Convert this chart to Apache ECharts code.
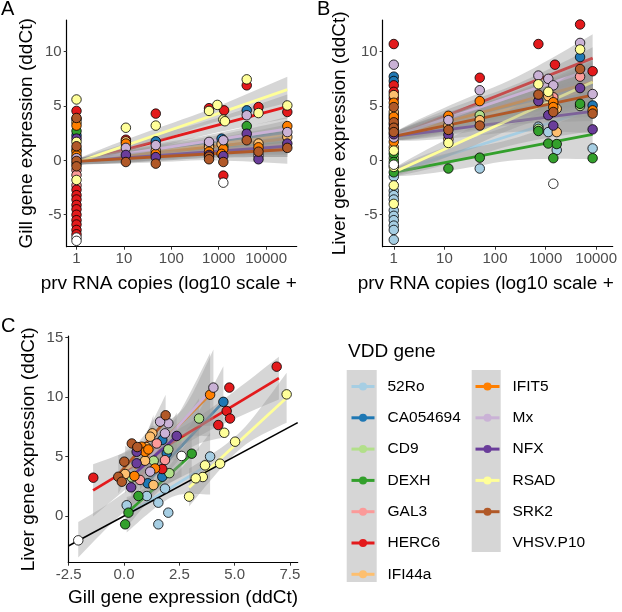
<!DOCTYPE html>
<html>
<head>
<meta charset="utf-8">
<script src="https://cdn.jsdelivr.net/npm/echarts@6/dist/echarts.min.js"></script>
<style>
  html, body { margin: 0; padding: 0; background: #fff; }
  #chart { width: 622px; height: 612px; }
</style>
</head>
<body>
<div id="chart"></div>
<script>
var genes = ['52Ro', 'CA054694', 'CD9', 'DEXH', 'GAL3', 'HERC6', 'IFI44a',
             'IFIT5', 'Mx', 'NFX', 'RSAD', 'SRK2', 'VHSV.P10'];
var geneColors = ['#A6CEE3', '#1F78B4', '#B2DF8A', '#33A02C', '#FB9A99', '#E31A1C', '#FDBF6F',
                  '#FF7F00', '#CAB2D6', '#6A3D9A', '#FFFF99', '#B15928', '#FFFFFF'];

// panel A: [gene, prv RNA copies, gill ddCt]
var gillVsPrv = [
  ['RSAD',1,5.6],['HERC6',1,4.55],['SRK2',1,3.9],['HERC6',1,3.8],['IFI44a',1,3.5],['IFIT5',1,3.2],
  ['DEXH',1,2.7],['CA054694',1,2.3],['NFX',1,2.0],['RSAD',1,1.7],['SRK2',1,1.3],['CD9',1,1.0],
  ['IFIT5',1,0.8],['IFIT5',1,0.45],['Mx',1,0.2],['SRK2',1,-0.05],['52Ro',1,-0.3],['SRK2',1,-0.55],
  ['GAL3',1,-0.9],['GAL3',1,-1.35],['RSAD',1,-1.8],['GAL3',1,-2.3],['HERC6',1,-2.7],['HERC6',1,-3.2],
  ['HERC6',1,-3.6],['HERC6',1,-4.1],['HERC6',1,-4.5],['HERC6',1,-5.0],['HERC6',1,-5.5],['HERC6',1,-5.9],
  ['HERC6',1,-6.4],['HERC6',1,-6.8],['VHSV.P10',1,-7.1],['VHSV.P10',1,-7.4],
  ['RSAD',11,3.0],['HERC6',11,1.9],['IFI44a',11,1.75],['IFIT5',11,1.55],['Mx',11,1.15],['NFX',11,0.5],['SRK2',11,-0.15],
  ['HERC6',47,4.3],['RSAD',47,3.2],['CA054694',47,1.75],['Mx',47,1.4],['IFI44a',47,0.9],['IFIT5',47,0.6],
  ['NFX',47,0.3],['SRK2',47,-0.3],
  ['HERC6',625,4.8],['RSAD',625,4.55],['Mx',625,1.7],['CA054694',625,1.4],['IFI44a',625,1.2],['IFIT5',625,0.8],
  ['NFX',625,0.5],['SRK2',625,0.35],['SRK2',625,0.1],
  ['RSAD',935,5.1],
  ['HERC6',1300,4.6],['RSAD',1250,3.75],['RSAD',1350,3.6],['CA054694',1150,2.0],['Mx',1250,1.85],['IFI44a',1150,1.5],
  ['DEXH',1250,1.3],['IFIT5',1250,1.05],['IFIT5',1150,0.6],['NFX',1250,0.4],['SRK2',1250,-0.15],['HERC6',1250,-1.4],
  ['VHSV.P10',1250,-2.05],
  ['RSAD',3900,7.45],['HERC6',3900,6.9],['CA054694',3900,4.6],['Mx',3900,4.15],['DEXH',3900,3.15],['NFX',3900,2.45],['SRK2',3900,1.85],
  ['HERC6',6900,4.9],['RSAD',6900,4.35],['IFI44a',6900,1.55],['IFIT5',6900,1.2],['SRK2',6900,0.8],['Mx',6900,0.45],['NFX',6900,0.1],
  ['RSAD',28000,5.05],['HERC6',28000,4.45],['IFIT5',28000,3.15],['Mx',28000,2.6],['IFI44a',28000,2.15],['NFX',28000,1.55],['SRK2',28000,1.15]
];

// panel B: [gene, prv RNA copies, liver ddCt]
var liverVsPrv = [
  ['HERC6',1,10.7],['Mx',1,8.8],['CA054694',1,7.7],['CA054694',1,7.3],['HERC6',1,6.9],['HERC6',1,6.3],['IFI44a',1,6.0],
  ['HERC6',1,5.7],['IFIT5',1,5.3],['SRK2',1,4.9],['IFI44a',1,4.45],['CD9',1,4.2],['IFIT5',1,4.0],['GAL3',1,3.8],
  ['SRK2',1,3.5],['NFX',1,3.3],['SRK2',1,3.0],['GAL3',1,2.9],['SRK2',1,2.6],['NFX',1,2.4],['Mx',1,2.1],['IFIT5',1,1.7],
  ['IFI44a',1,1.2],['RSAD',1,0.9],['DEXH',1,0.6],['CD9',1,0.2],['VHSV.P10',1,-0.4],['DEXH',1,-0.15],['RSAD',1,-0.6],['DEXH',1,-1.1],
  ['52Ro',1,-1.5],['RSAD',1,-2.3],['52Ro',1,-2.8],['52Ro',1,-3.2],['52Ro',1,-3.6],['RSAD',1,-4.0],['52Ro',1,-4.6],
  ['52Ro',1,-5.1],['52Ro',1,-5.5],['52Ro',1,-6.0],['52Ro',1,-6.4],['52Ro',1,-7.3],
  ['IFIT5',12,4.1],['Mx',12,3.7],['IFI44a',12,3.2],['SRK2',12,2.8],['NFX',12,2.35],['IFI44a',12,1.95],['RSAD',12,1.6],['DEXH',12,-0.75],
  ['HERC6',50,7.6],['Mx',50,6.45],['IFIT5',50,5.45],['CD9',50,4.15],['IFI44a',50,3.7],['SRK2',50,3.2],['DEXH',50,0.25],['52Ro',50,-0.75],
  ['HERC6',720,10.7],['Mx',720,7.8],['RSAD',720,7.0],['SRK2',720,6.05],['NFX',720,5.45],['52Ro',720,3.1],['CD9',720,2.9],['DEXH',720,2.7],
  ['Mx',1130,7.5],['RSAD',1130,6.3],['IFI44a',1130,5.9],['NFX',1130,4.15],['52Ro',1130,2.6],['DEXH',1130,1.55],
  ['HERC6',1530,8.8],['Mx',1420,6.9],['GAL3',1420,5.8],['IFIT5',1420,5.35],['IFIT5',1420,4.9],['SRK2',1420,4.45],['NFX',1420,3.2],
  ['DEXH',1420,0.2],['VHSV.P10',1420,-2.15],
  ['IFI44a',1660,4.75],['IFI44a',1660,2.6],['DEXH',1660,1.5],['52Ro',1660,0.95],
  ['HERC6',4800,12.5],['Mx',4800,10.8],['RSAD',4800,10.2],['CA054694',4800,9.5],['SRK2',4800,8.4],['GAL3',4800,7.7],
  ['NFX',4800,6.65],['DEXH',4800,5.2],['CD9',4800,5.0],
  ['HERC6',8500,8.2],['Mx',8500,6.1],['CA054694',8500,5.05],['IFIT5',8500,4.6],['SRK2',8500,4.3],['NFX',8500,2.85],
  ['52Ro',8500,1.1],['DEXH',8500,0.2]
];

// panel C: [gene, gill ddCt, liver ddCt]
var liverVsGill = [
  ['HERC6',-1.39,3.22],['HERC6',4.76,10.8],['HERC6',6.9,12.56],['HERC6',4.64,8.83],['HERC6',4.79,8.2],['HERC6',4.26,7.65],['HERC6',1.73,3.95],
  ['SRK2',0.35,6.1],['SRK2',1.88,8.47],['SRK2',0.01,4.57],['SRK2',-0.26,3.3],['SRK2',-0.1,2.88],['SRK2',0.6,5.8],
  ['Mx',4.04,10.8],['Mx',2.0,7.8],['Mx',1.63,7.93],['Mx',1.85,6.95],['Mx',1.18,3.73],
  ['IFIT5',3.89,10.2],['IFIT5',0.8,5.83],['IFIT5',0.95,5.4],['IFIT5',1.4,4.0],['IFIT5',0.47,3.36],['IFIT5',1.1,5.6],
  ['CA054694',4.49,9.6],['CA054694',1.73,6.4],['CA054694',1.93,5.27],['CA054694',1.73,3.3],['CA054694',1.07,2.75],
  ['CD9',3.39,8.2],['CD9',2.0,5.6],['CD9',1.34,4.65],['CD9',0.35,3.25],['CD9',2.05,3.6],
  ['RSAD',4.53,7.0],['RSAD',5.02,6.25],['RSAD',7.35,10.23],['RSAD',4.34,4.4],['RSAD',3.66,4.26],['RSAD',3.56,3.28],
  ['RSAD',3.24,3.17],['RSAD',2.94,1.63],
  ['52Ro',3.89,5.0],['52Ro',1.55,1.12],['52Ro',2.0,0.28],['52Ro',1.55,-0.7],['52Ro',0.12,0.9],['52Ro',1.03,1.68],['52Ro',1.85,2.3],
  ['DEXH',3.06,5.24],['DEXH',0.05,-0.7],['DEXH',0.2,0.28],['DEXH',0.65,1.68],
  ['VHSV.P10',-2.07,-2.05],['VHSV.P10',2.6,5.05],
  ['NFX',2.38,6.73],['NFX',0.57,5.4],['NFX',0.57,4.43],['NFX',0.32,2.41],
  ['GAL3',1.48,6.1],['GAL3',1.85,4.7],['GAL3',0.72,3.03],
  ['IFI44a',1.28,6.95],['IFI44a',1.18,6.67],['IFI44a',0.95,4.65],['IFI44a',0.05,3.53],['IFI44a',1.33,2.6],['IFI44a',1.0,5.8]
];

// fitted lines: [gene, x start, y start, x end, y end, band half-width at start, middle, end]
var gillFits = [
  ['52Ro',1,-0.1,28000,1.3,0.25,0.5,1.0],['CA054694',1,-0.1,28000,2.6,0.25,0.5,1.1],
  ['CD9',1,-0.1,28000,1.7,0.25,0.5,1.0],['DEXH',1,-0.1,28000,1.6,0.25,0.5,1.0],
  ['GAL3',1,-0.1,28000,1.5,0.25,0.5,1.0],['HERC6',1,-0.2,28000,4.95,0.3,0.6,1.1],
  ['IFI44a',1,-0.1,28000,2.3,0.25,0.5,1.0],['IFIT5',1,-0.1,28000,2.0,0.25,0.5,1.0],
  ['Mx',1,-0.1,28000,2.9,0.25,0.5,1.1],['NFX',1,-0.1,28000,1.3,0.25,0.5,1.0],
  ['RSAD',1,-0.2,28000,6.5,0.3,0.6,1.2],['SRK2',1,-0.1,28000,1.0,0.25,0.5,1.3]
];
var liverFits = [
  ['52Ro',1,-1.1,8500,4.7,0.35,0.9,2.0],['CA054694',1,2.2,8500,7.0,0.35,0.9,2.0],
  ['CD9',1,2.2,8500,5.6,0.35,0.9,2.0],['DEXH',1,-1.1,8500,2.4,0.35,0.9,2.3],
  ['GAL3',1,2.2,8500,7.4,0.35,0.9,2.0],['HERC6',1,2.2,8500,9.4,0.35,0.9,2.2],
  ['IFI44a',1,2.2,8500,6.6,0.35,0.9,2.0],['IFIT5',1,2.2,8500,7.2,0.35,0.9,2.0],
  ['Mx',1,2.2,8500,8.4,0.35,0.9,2.0],['NFX',1,2.2,8500,4.5,0.35,0.9,2.0],
  ['RSAD',1,-1.1,8500,7.2,0.35,0.9,2.0],['SRK2',1,2.2,8500,6.0,0.35,0.9,2.0]
];
var crossFits = [
  ['52Ro',0.12,0.1,3.89,4.4,1.5,0.8,2.6],['CA054694',1.07,2.9,4.49,9.6,1.7,0.9,3.0],
  ['CD9',0.35,2.9,3.39,7.7,1.5,0.8,2.2],['DEXH',0.05,0.1,3.06,5.2,1.2,0.6,1.5],
  ['GAL3',0.72,3.3,1.85,5.8,2.5,1.2,3.0],['HERC6',-1.4,2.15,7.0,11.6,2.2,0.8,1.8],
  ['IFI44a',0.05,3.9,1.33,5.5,2.0,1.0,3.0],['IFIT5',0.47,4.0,3.89,10.2,1.5,0.8,3.5],
  ['Mx',1.18,5.0,4.04,10.8,2.5,1.0,3.2],['NFX',0.32,3.3,2.38,6.7,1.6,0.8,2.0],
  ['RSAD',2.94,2.4,7.35,9.95,1.6,0.7,2.1],['SRK2',-0.26,3.5,1.88,8.0,1.6,0.8,2.2],
  ['VHSV.P10',-2.07,-2.0,2.6,5.1,1.5,0.8,1.8]
];
// identity reference line in panel C
var identityLine = [[-2.52, -2.52], [7.85, 7.85]];

var prvTicks = [1, 10, 100, 1000, 10000];
var ddctTicks = [-5, 0, 5, 10];
var crossXTicks = [-2.5, 0, 2.5, 5, 7.5];
var crossYTicks = [0, 5, 10, 15];

var fontFamily = '"Liberation Sans", Arial, sans-serif';
var ribbonFill = 'rgba(153,153,153,0.4)';

function logX(v) { return Math.log10(v); }
function sameX(v) { return v; }

// confidence band drawn around the fitted line, narrowest in the middle
function ribbonItem(params, api) {
  var x0 = api.value(0), y0 = api.value(1), x1 = api.value(2), y1 = api.value(3);
  var h0 = api.value(4), hm = api.value(5), h1 = api.value(6);
  var upper = [], lower = [];
  for (var k = 0; k <= 24; k++) {
    var t = k / 24;
    var s = Math.abs(1 - 2 * t);
    var he = t < 0.5 ? h0 : h1;
    var hw = Math.sqrt(hm * hm + (he * he - hm * hm) * s * s);
    var x = x0 + (x1 - x0) * t, y = y0 + (y1 - y0) * t;
    upper.push(api.coord([x, y + hw]));
    lower.unshift(api.coord([x, y - hw]));
  }
  return { type: 'polygon', shape: { points: upper.concat(lower) }, style: { fill: ribbonFill } };
}

var lineSeries = [], ribbonSeries = [], pointSeries = [];

function addPanel(panel, points, fits, xMap) {
  fits.forEach(function (f) {
    var gi = genes.indexOf(f[0]);
    var x0 = xMap(f[1]), x1 = xMap(f[3]);
    ribbonSeries.push({
      type: 'custom', name: f[0], xAxisIndex: panel, yAxisIndex: panel,
      z: 10 + 2 * gi, silent: true, clip: true, renderItem: ribbonItem,
      data: [[x0, f[2], x1, f[4], f[5], f[6], f[7]]]
    });
    if (f[0] !== 'VHSV.P10') {
      lineSeries.push({
        type: 'line', name: f[0], xAxisIndex: panel, yAxisIndex: panel,
        z: 11 + 2 * gi, silent: true, showSymbol: false, symbol: 'circle',
        lineStyle: { color: geneColors[gi], width: 2.8 },
        itemStyle: { color: geneColors[gi] },
        data: [[x0, f[2]], [x1, f[4]]]
      });
    }
  });
  genes.forEach(function (g, gi) {
    var pts = points.filter(function (r) { return r[0] === g; })
                    .map(function (r) { return [xMap(r[1]), r[2]]; });
    pointSeries.push({
      type: 'scatter', name: g, xAxisIndex: panel, yAxisIndex: panel, z: 60,
      symbol: 'circle', symbolSize: 9.5, silent: true,
      itemStyle: { color: geneColors[gi], borderColor: '#000', borderWidth: 0.8, opacity: 1 },
      data: pts
    });
  });
}

addPanel(0, gillVsPrv, gillFits, logX);
addPanel(1, liverVsPrv, liverFits, logX);
addPanel(2, liverVsGill, crossFits, sameX);

var identitySeries = {
  type: 'line', name: 'identity', xAxisIndex: 2, yAxisIndex: 2, z: 40, silent: true,
  showSymbol: false, lineStyle: { color: '#000', width: 1.6 }, data: identityLine
};

function makeAxis(grid, min, max, ticks, fmt, name, gap, pad) {
  return {
    gridIndex: grid, type: 'value', min: min, max: max,
    axisLine: { show: true, onZero: false, lineStyle: { color: '#000', width: 1.2 } },
    axisTick: { show: true, customValues: ticks, length: 3, lineStyle: { color: '#333' } },
    axisLabel: { customValues: ticks, formatter: fmt, color: '#4D4D4D', fontSize: 15, fontFamily: fontFamily, margin: 5 },
    splitLine: { show: false },
    name: name, nameLocation: 'middle', nameGap: gap,
    nameTextStyle: { color: '#000', fontSize: 19, fontFamily: fontFamily, padding: pad || 0 }
  };
}

function prvLabel(v) { return String(Math.round(Math.pow(10, v))); }
function intLabel(v) { return String(Math.round(v)); }
function oneDec(v) { return v.toFixed(1); }

var logTicks = prvTicks.map(logX);

var option = {
  animation: false,
  backgroundColor: '#fff',
  textStyle: { fontFamily: fontFamily },
  title: [
    { text: 'A', left: 1, top: -1, padding: 0, textStyle: { fontSize: 20, fontWeight: 'normal', color: '#000', fontFamily: fontFamily } },
    { text: 'B', left: 317, top: -1, padding: 0, textStyle: { fontSize: 20, fontWeight: 'normal', color: '#000', fontFamily: fontFamily } },
    { text: 'C', left: 1, top: 316, padding: 0, textStyle: { fontSize: 20, fontWeight: 'normal', color: '#000', fontFamily: fontFamily } },
    { text: 'VDD gene', left: 348, top: 342, padding: 0, textStyle: { fontSize: 19, fontWeight: 'normal', color: '#000', fontFamily: fontFamily } }
  ],
  grid: [
    { left: 66.7, top: 20, width: 230, height: 226.7 },
    { left: 382.7, top: 20, width: 230, height: 226.7 },
    { left: 68.3, top: 336, width: 229.4, height: 226.7 }
  ],
  xAxis: [
    makeAxis(0, -0.207, 4.645, logTicks, prvLabel, 'prv RNA copies (log10 scale +', 28, [0, 26, 0, 0]),
    makeAxis(1, -0.219, 4.326, logTicks, prvLabel, 'prv RNA copies (log10 scale +', 28, [0, 24, 0, 0]),
    makeAxis(2, -2.52, 7.85, crossXTicks, oneDec, 'Gill gene expression (ddCt)', 26)
  ],
  yAxis: [
    makeAxis(0, -7.94, 12.91, ddctTicks, intLabel, 'Gill gene expression (ddCt)', 30),
    makeAxis(1, -7.94, 12.91, ddctTicks, intLabel, 'Liver gene expression (ddCt)', 33),
    makeAxis(2, -3.93, 15.14, crossYTicks, intLabel, 'Liver gene expression (ddCt)', 30)
  ],
  legend: [
    {
      data: genes.slice(0, 7), left: 350, top: 378.5, orient: 'vertical', padding: 0,
      itemWidth: 23, itemHeight: 10, itemGap: 15.3, selectedMode: false,
      lineStyle: { width: 3 },
      textStyle: { fontSize: 15.5, color: '#000', fontFamily: fontFamily, lineHeight: 15, padding: [0, 0, 0, 8] }
    },
    {
      data: genes.slice(7).map(function (g) { return g === 'VHSV.P10' ? { name: g, icon: 'none' } : g; }),
      left: 474, top: 378.5, orient: 'vertical', padding: 0,
      itemWidth: 24, itemHeight: 10, itemGap: 15.3, selectedMode: false,
      lineStyle: { width: 3 },
      textStyle: { fontSize: 15.5, color: '#000', fontFamily: fontFamily, lineHeight: 15, padding: [0, 0, 0, 8] }
    }
  ],
  graphic: [
    { type: 'rect', shape: { x: 346.7, y: 370, width: 30, height: 212 }, style: { fill: '#D6D6D6' }, z: 0 },
    { type: 'rect', shape: { x: 471.7, y: 370, width: 29, height: 182 }, style: { fill: '#D6D6D6' }, z: 0 }
  ],
  series: lineSeries.concat(ribbonSeries, [identitySeries], pointSeries)
};

var chart = echarts.init(document.getElementById('chart'), null, { renderer: 'canvas' });
chart.setOption(option);
</script>
</body>
</html>
